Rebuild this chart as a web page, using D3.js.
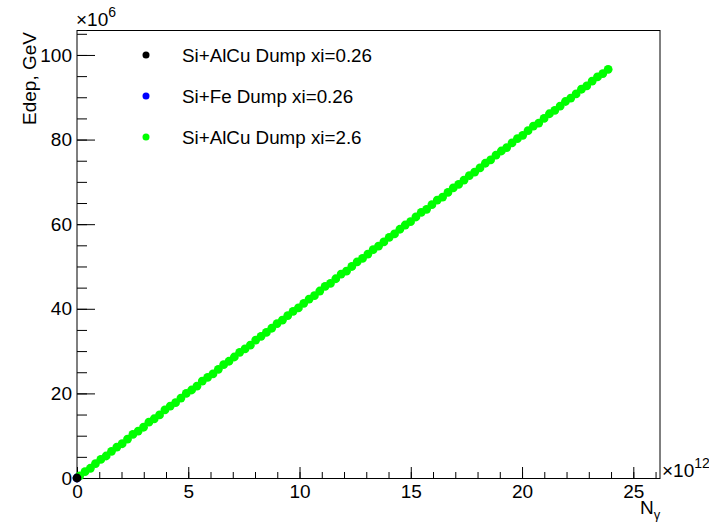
<!DOCTYPE html>
<html>
<head>
<meta charset="utf-8">
<script src="https://cdn.jsdelivr.net/npm/d3@7"></script>
<style>
  body { margin: 0; background: #fff; }
  text { font-family: "Liberation Sans", Arial, Helvetica, sans-serif; fill: #000; }
</style>
</head>
<body>
<div class="chart"></div>
<script>
// Data (x in units of 1e12, y in units of 1e6 GeV)
const seriesNames = ["Si+AlCu Dump xi=0.26", "Si+Fe Dump xi=0.26", "Si+AlCu Dump xi=2.6"];
const seriesColors = ["#000000", "#0000ff", "#00ff00"];

const alcu026X = [0];
const alcu026Y = [0];
const fe026X = [0];
const fe026Y = [0];

const alcu26X = [
  0.12, 0.36, 0.6, 0.83, 1.07, 1.31, 1.55, 1.79, 2.03, 2.27,
  2.51, 2.75, 2.99, 3.23, 3.47, 3.71, 3.95, 4.19, 4.43, 4.67,
  4.91, 5.15, 5.39, 5.63, 5.87, 6.11, 6.35, 6.59, 6.83, 7.07,
  7.31, 7.55, 7.79, 8.03, 8.27, 8.51, 8.75, 8.99, 9.23, 9.47,
  9.71, 9.95, 10.19, 10.43, 10.67, 10.91, 11.15, 11.39, 11.63, 11.87,
  12.11, 12.35, 12.59, 12.83, 13.07, 13.31, 13.55, 13.79, 14.03, 14.27,
  14.51, 14.75, 14.99, 15.23, 15.47, 15.71, 15.95, 16.19, 16.43, 16.67,
  16.91, 17.15, 17.39, 17.63, 17.87, 18.11, 18.35, 18.59, 18.83, 19.07,
  19.31, 19.55, 19.79, 20.03, 20.27, 20.51, 20.75, 20.99, 21.23, 21.47,
  21.71, 21.95, 22.19, 22.43, 22.67, 22.91, 23.15, 23.39, 23.63, 23.87
];
const alcu26Y = [
  0.5, 1.5, 2.3, 3.4, 4.4, 5.2, 6.3, 7.3, 8.1, 9.2,
  10.3, 11.1, 12.0, 13.2, 14.0, 14.9, 16.1, 17.0, 17.8, 18.9,
  20.0, 20.8, 21.7, 22.9, 23.8, 24.6, 25.7, 26.8, 27.6, 28.6,
  29.7, 30.5, 31.4, 32.6, 33.5, 34.4, 35.4, 36.5, 37.3, 38.4,
  39.4, 40.2, 41.3, 42.3, 43.1, 44.2, 45.3, 46.0, 47.1, 48.2,
  48.9, 50.0, 51.1, 51.9, 52.9, 54.0, 54.8, 55.8, 56.9, 57.7,
  58.8, 59.8, 60.6, 61.7, 62.8, 63.5, 64.6, 65.7, 66.4, 67.5,
  68.6, 69.4, 70.4, 71.5, 72.3, 73.3, 74.4, 75.2, 76.3, 77.3,
  78.1, 79.2, 80.2, 81.0, 82.1, 83.2, 83.9, 85.0, 86.1, 86.9,
  87.9, 89.0, 89.8, 90.8, 91.9, 92.7, 93.8, 94.8, 95.6, 96.6
];

const xTicks = [0, 5, 10, 15, 20, 25];
const yTicks = [0, 20, 40, 60, 80, 100];

// Margin convention
const margin = { top: 30, right: 49, bottom: 48, left: 77 };
const width = 709 - margin.left - margin.right;
const height = 526 - margin.top - margin.bottom;

const root = d3
  .select(".chart")
  .append("svg")
  .attr("width", 709)
  .attr("height", 526);

const svg = root
  .append("g")
  .attr("transform", "translate(" + margin.left + "," + margin.top + ")");

const xScale = d3.scaleLinear().domain([0, 26.2]).range([0, width]);
const yScale = d3.scaleLinear().domain([0, 105.9]).range([height, 0]);

// Minor ticks
const xMinor = svg
  .append("g")
  .attr("transform", `translate(0, ${height})`)
  .call(d3.axisBottom(xScale).tickValues(d3.range(0, 27, 1)).tickSize(-6).tickFormat(""));
xMinor.select(".domain").remove();

const yMinor = svg
  .append("g")
  .call(d3.axisLeft(yScale).tickValues(d3.range(0, 106, 5)).tickSize(-10).tickFormat(""));
yMinor.select(".domain").remove();

// Major ticks with labels
const xAxisG = svg
  .append("g")
  .attr("class", "axis x-axis")
  .attr("transform", `translate(0, ${height})`)
  .call(d3.axisBottom(xScale).tickValues(xTicks).tickSize(-11).tickPadding(7));
xAxisG.select(".domain").remove();

const yAxisG = svg
  .append("g")
  .attr("class", "axis y-axis")
  .call(d3.axisLeft(yScale).tickValues(yTicks).tickSize(-18).tickPadding(5));
yAxisG.select(".domain").remove();

svg.selectAll(".tick line").attr("stroke", "#000");
svg.selectAll(".tick text").attr("font-size", 19).attr("font-family", null).attr("fill", "#000");

// Frame
svg
  .append("rect")
  .attr("x", 0)
  .attr("y", 0.5)
  .attr("width", width)
  .attr("height", height)
  .attr("fill", "none")
  .attr("stroke", "#000")
  .attr("stroke-width", 1);

// Markers
const series = [
  { x: fe026X, y: fe026Y, color: seriesColors[1] },
  { x: alcu26X, y: alcu26Y, color: seriesColors[2] },
  { x: alcu026X, y: alcu026Y, color: seriesColors[0] }
];

series.forEach((s) => {
  svg
    .append("g")
    .selectAll("circle")
    .data(s.x)
    .enter()
    .append("circle")
    .attr("cx", (d) => xScale(d))
    .attr("cy", (d, i) => yScale(s.y[i]))
    .attr("r", 4.4)
    .attr("fill", s.color);
});

// Legend
const legend = svg
  .append("g")
  .selectAll("g")
  .data(seriesNames)
  .enter()
  .append("g")
  .attr("transform", (d, i) => `translate(69, ${25 + i * 41})`);

legend
  .append("circle")
  .attr("r", 3.5)
  .attr("fill", (d, i) => seriesColors[i]);

legend
  .append("text")
  .attr("x", 36)
  .attr("dy", "0.35em")
  .attr("font-size", 18.8)
  .text((d) => d);

// Axis titles
const yTitle = root
  .append("text")
  .attr("transform", "translate(36, 32) rotate(-90)")
  .attr("text-anchor", "end")
  .attr("font-size", 19)
  .text("Edep, GeV");

const yExp = root
  .append("text")
  .attr("x", 76)
  .attr("y", 26)
  .attr("font-size", 19);
yExp.append("tspan").text("\u00d710");
yExp.append("tspan").attr("dy", -9).attr("font-size", 14).text("6");

const xExp = root
  .append("text")
  .attr("x", 662)
  .attr("y", 477)
  .attr("font-size", 19);
xExp.append("tspan").text("\u00d710");
xExp.append("tspan").attr("dy", -9).attr("font-size", 14).text("12");

const xTitle = root
  .append("text")
  .attr("x", 640)
  .attr("y", 514)
  .attr("font-size", 19);
xTitle.append("tspan").text("N");
xTitle.append("tspan").attr("dy", 5).attr("font-size", 13).text("\u03b3");
</script>
</body>
</html>
